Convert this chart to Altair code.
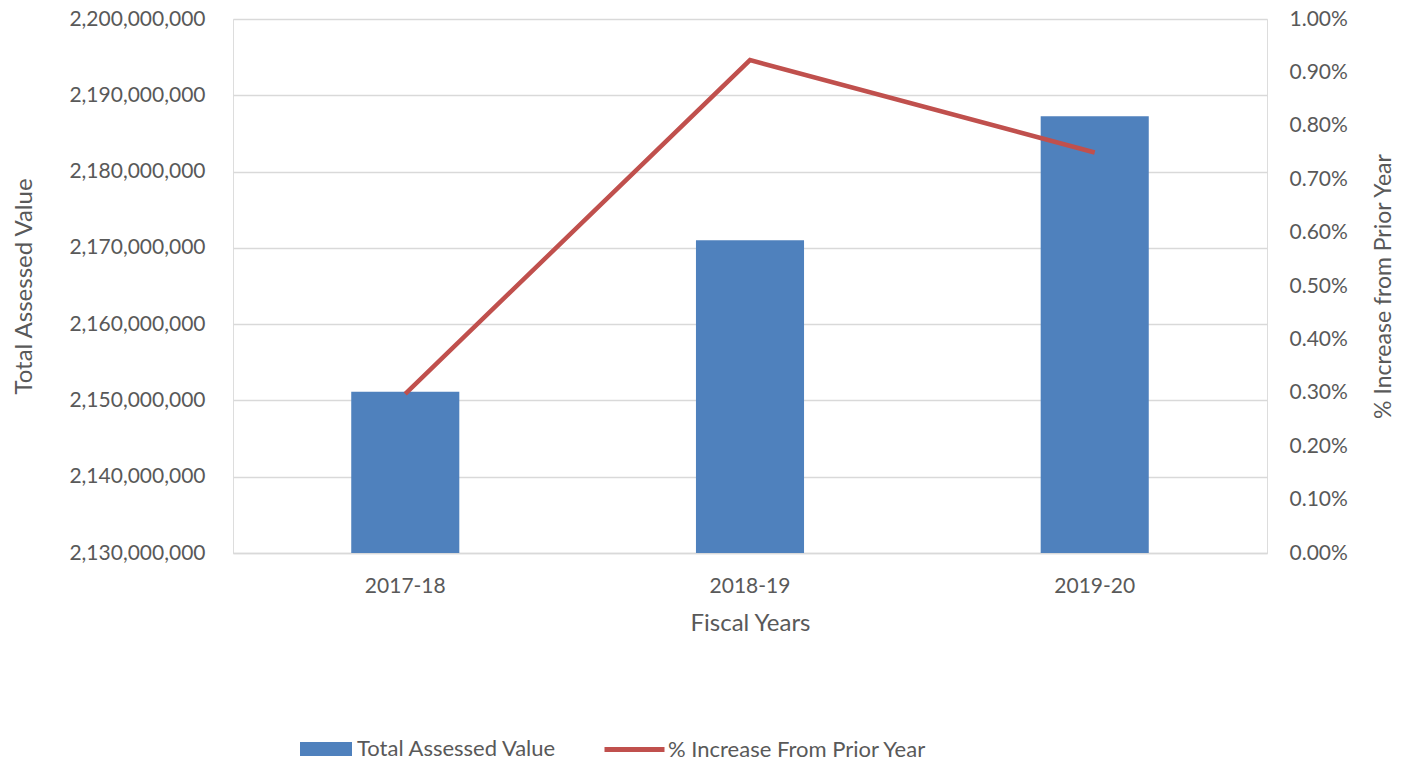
import altair as alt
import pandas as pd

years = ["2017-18", "2018-19", "2019-20"]
assessed = [2151150000, 2171000000, 2187250000]
pct_increase = [0.00298, 0.00923, 0.00750]

left_ticks = [2130000000, 2140000000, 2150000000, 2160000000, 2170000000,
              2180000000, 2190000000, 2200000000]
right_ticks = [0.0, 0.001, 0.002, 0.003, 0.004, 0.005, 0.006, 0.007, 0.008, 0.009, 0.010]

bar_name = "Total Assessed Value"
line_name = "% Increase From Prior Year"

df = pd.DataFrame({
    "year": years,
    "assessed": assessed,
    "pct": pct_increase,
    "bar_series": [bar_name] * 3,
    "line_series": [line_name] * 3,
})

FONT = "Lato"
GREY = "#595959"

x_enc = alt.X(
    "year:N",
    sort=years,
    title="Fiscal Years",
    scale=alt.Scale(paddingInner=0.6865, paddingOuter=0.343),
    axis=alt.Axis(labelAngle=0, ticks=False, tickSize=0, labelPadding=22,
                  titlePadding=15, domainColor="#d9d9d9", domainWidth=1.5,
                  labelFontSize=21, titleFontSize=24, labelColor=GREY,
                  titleColor=GREY, titleFontWeight="normal", grid=False),
)

bars = alt.Chart(df).mark_bar(color="#4f81bd", clip=True).encode(
    x=x_enc,
    y=alt.Y(
        "assessed:Q",
        title="Total Assessed Value",
        scale=alt.Scale(domain=[left_ticks[0], left_ticks[-1]], zero=False, nice=False),
        axis=alt.Axis(values=left_ticks, format=",d", ticks=False, tickSize=0,
                      domain=False, labelPadding=28, titlePadding=32,
                      gridColor="#d9d9d9", gridWidth=1.3,
                      labelFontSize=21, titleFontSize=24, labelColor=GREY,
                      titleColor=GREY, titleFontWeight="normal"),
    ),
    y2=alt.datum(left_ticks[0]),
    fill=alt.Fill(
        "bar_series:N",
        scale=alt.Scale(domain=[bar_name], range=["#4f81bd"]),
        legend=alt.Legend(
            title=None, orient="none", legendX=67, legendY=704,
            symbolType="M-1,-0.27H1V0.27H-1Z", symbolSize=2704,
            symbolStrokeWidth=0, labelOffset=5, padding=0, labelLimit=0,
            labelFontSize=22, labelColor=GREY, labelFont=FONT,
        ),
    ),
)

line = alt.Chart(df).mark_line(color="#c0504d", strokeWidth=4.5).encode(
    x=alt.X("year:N", sort=years, bandPosition=0.5),
    y=alt.Y(
        "pct:Q",
        title="% Increase from Prior Year",
        scale=alt.Scale(domain=[right_ticks[0], right_ticks[-1]], nice=False),
        axis=alt.Axis(orient="right", values=right_ticks, format=".2%",
                      ticks=False, tickSize=0, domain=False, grid=False,
                      labelPadding=22, titlePadding=48, titleAngle=270,
                      labelFontSize=21, titleFontSize=23, labelColor=GREY,
                      titleColor=GREY, titleFontWeight="normal"),
    ),
    stroke=alt.Stroke(
        "line_series:N",
        scale=alt.Scale(domain=[line_name], range=["#c0504d"]),
        legend=alt.Legend(
            title=None, orient="none", legendX=369, legendY=698,
            symbolType="stroke", symbolSize=3600, symbolStrokeWidth=5,
            labelOffset=1, padding=0, labelLimit=0,
            labelFontSize=22, labelColor=GREY, labelFont=FONT,
        ),
    ),
)

chart = alt.layer(bars, line).resolve_scale(
    y="independent", fill="independent", stroke="independent"
).properties(
    width=1034,
    height=534,
    padding={"left": 225, "top": 11, "right": 128, "bottom": 208},
    autosize=alt.AutoSizeParams(type="none"),
).configure_view(
    stroke=None
).configure(
    font=FONT
).configure_axis(
    labelFont=FONT, titleFont=FONT
)

chart.save("out.html", embed_options={"renderer": "svg", "actions": False})
